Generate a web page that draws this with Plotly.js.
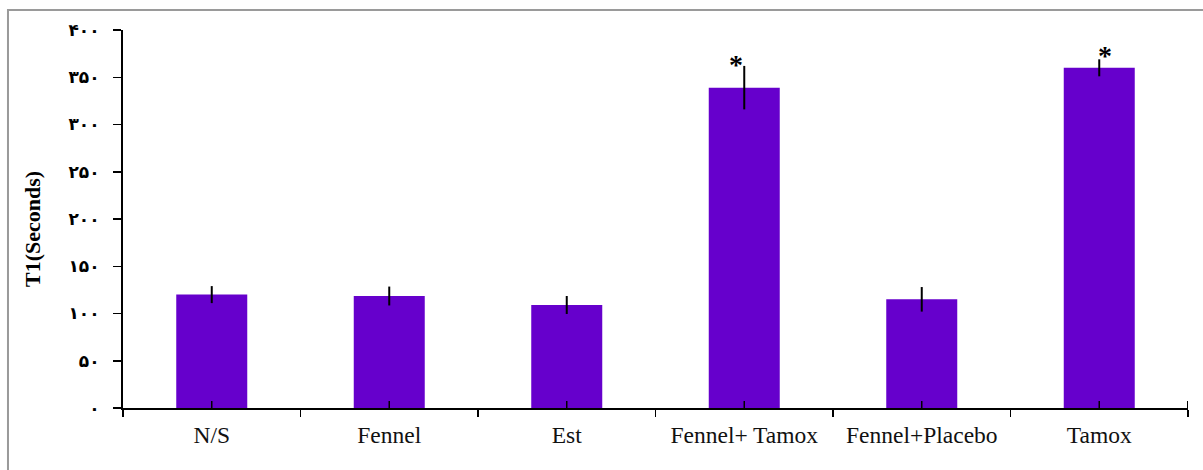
<!DOCTYPE html>
<html>
<head>
<meta charset="utf-8">
<script src="https://cdn.plot.ly/plotly-3.0.1.min.js"></script>
<style>
  html, body { margin: 0; padding: 0; background: #fff; }
  #chart { width: 1203px; height: 470px; }
</style>
</head>
<body>
<div id="chart"></div>
<script>
// Group labels along the x axis
const groups = ["N/S", "Fennel", "Est", "Fennel+ Tamox", "Fennel+Placebo", "Tamox"];
// Mean T1 latency per group (seconds) and its error (±)
const meanT1 = [120, 118.5, 109, 339, 115, 360];
const errT1 = [9, 10, 9.5, 23, 13, 9];
// Significance marks above the bars
const sigMarks = ["", "", "", "*", "", "*"];

// Y axis ticks, labelled with Persian digits
const yTickVals = [0, 50, 100, 150, 200, 250, 300, 350, 400];
const yTickText = ["۰", "۵۰", "۱۰۰", "۱۵۰", "۲۰۰", "۲۵۰", "۳۰۰", "۳۵۰", "۴۰۰"];

const yTitle = "T1(Seconds)";

const barColor = "#6600CC";
const serif = "Liberation Serif";

const trace = {
  type: "bar",
  x: groups,
  y: meanT1,
  width: 0.4,
  marker: { color: barColor, line: { width: 0 } },
  error_y: { type: "data", array: errT1, visible: true, color: "#000", thickness: 2, width: 0 },
  hoverinfo: "x+y"
};

// Ticks that cross the x axis at each group centre, plus the right end
const shapes = groups.map((g, i) => ({
  type: "line", xref: "x", yref: "y", ysizemode: "pixel", yanchor: 0,
  x0: i, x1: i, y0: -7, y1: 7,
  line: { color: "#000", width: 1.5 }
}));
shapes.push({
  type: "line", xref: "x", yref: "y", ysizemode: "pixel", yanchor: 0,
  x0: groups.length - 0.5, x1: groups.length - 0.5, y0: -7, y1: 7,
  line: { color: "#000", width: 2 }
});
// Grey frame around the figure
shapes.push({
  type: "rect", xref: "paper", yref: "paper",
  x0: -0.108, x1: 1.03, y0: -0.2, y1: 1.0529,
  line: { color: "#9a9a9a", width: 2 }, fillcolor: "rgba(0,0,0,0)", layer: "below"
});

const sigShiftX = [0, 0, 0, -8, 0, 6];
const sigShiftY = [0, 0, 0, -16, 0, -14];
const annotations = [];
sigMarks.forEach((m, i) => {
  if (!m) return;
  annotations.push({
    x: groups[i], y: meanT1[i] + errT1[i], xref: "x", yref: "y",
    text: "<b>" + m + "</b>", showarrow: false,
    xshift: sigShiftX[i], yshift: sigShiftY[i],
    yanchor: "bottom", xanchor: "center",
    font: { family: serif, size: 28, color: "#000" }
  });
});

// Rotated y-axis title, placed in the left margin
annotations.push({
  xref: "paper", yref: "paper", x: -0.085, y: 0.475,
  xanchor: "center", yanchor: "middle",
  text: "<b>" + yTitle + "</b>", textangle: -90, showarrow: false,
  font: { family: serif, size: 22, color: "#000" }
});

const layout = {
  width: 1203, height: 470,
  margin: { l: 123, r: 15, t: 30, b: 62 },
  paper_bgcolor: "#fff", plot_bgcolor: "#fff",
  showlegend: false,
  xaxis: {
    type: "category",
    range: [-0.5, groups.length - 0.5],
    tickson: "boundaries",
    ticks: "outside", ticklen: 7, tickwidth: 1.5, tickcolor: "#000",
    showline: true, linecolor: "#000", linewidth: 2,
    showgrid: false, zeroline: false,
    tickfont: { family: serif, size: 23.5, color: "#111" },
    ticklabelstandoff: 5
  },
  yaxis: {
    range: [0, 400],
    tickmode: "array", tickvals: yTickVals, ticktext: yTickText,
    ticks: "outside", ticklen: 8, tickwidth: 1.5, tickcolor: "#000",
    showline: true, linecolor: "#000", linewidth: 2,
    showgrid: false, zeroline: false,
    tickfont: { family: "DejaVu Sans", size: 17, color: "#000", weight: "bold" },
    ticklabelstandoff: 10
  },
  shapes: shapes,
  annotations: annotations
};

Plotly.newPlot("chart", [trace], layout, { displayModeBar: false, staticPlot: true });
</script>
</body>
</html>
